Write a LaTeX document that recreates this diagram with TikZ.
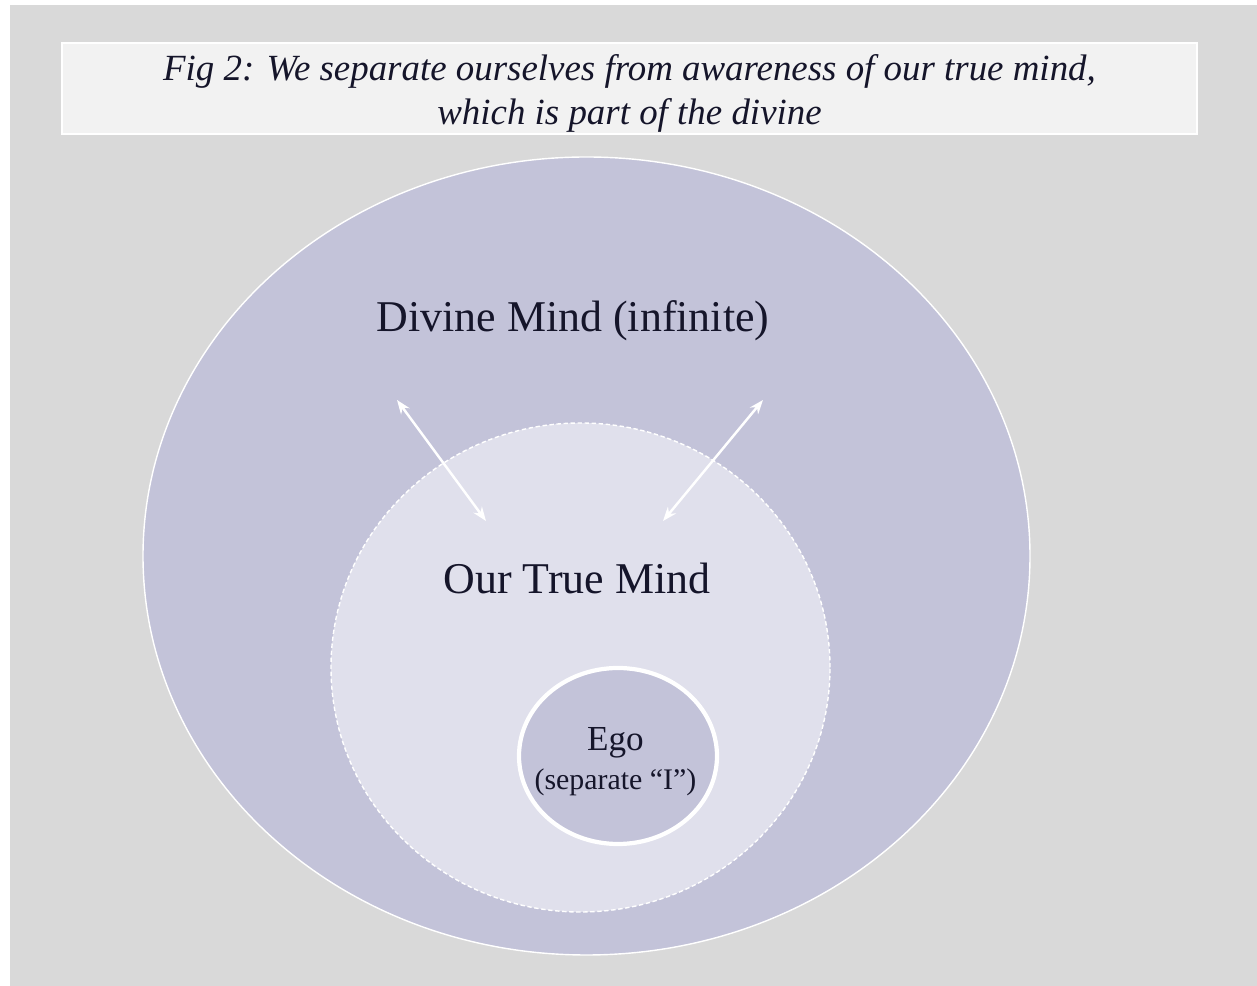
\documentclass[tikz,border=0pt]{standalone}
\usepackage{fontspec}
\setmainfont{Liberation Serif}
\usetikzlibrary{shapes.geometric,arrows.meta}

\definecolor{slidegray}{HTML}{D9D9D9}
\definecolor{titlefill}{HTML}{F2F2F2}
\definecolor{divinefill}{HTML}{C3C3D9}
\definecolor{truefill}{HTML}{E0E0EC}
\definecolor{inktext}{HTML}{15152A}

\begin{document}
\begin{tikzpicture}[
    text=inktext,
    ring/.style={ellipse, inner sep=0pt, draw=white},
    label text/.style={font=\fontsize{25}{30}\selectfont},
    flow/.style={white, line width=1.4pt, {Stealth[length=8pt,width=6pt]}-{Stealth[length=8pt,width=6pt]}}
]
    % Page frame: white strip top and left, gray slide
    \useasboundingbox (0,0) rectangle (25.14,19.72);
    \fill[white] (0,0) rectangle (25.14,19.72);
    \fill[slidegray] (0.2,0) rectangle (25.14,19.62);

    % Title box
    \node[draw=white, line width=1pt, fill=titlefill, minimum width=22.7cm, minimum height=1.82cm] (title) at (12.59,17.95) {};
    \node[align=center, font=\itshape\fontsize{21}{25}\selectfont] (titletext) at (12.59,17.86)
        {Fig 2: We separate ourselves from awareness of our true mind,\\[0pt]which is part of the divine};

    % Nested minds
    \node[ring, fill=divinefill, line width=0.8pt, minimum width=17.74cm, minimum height=15.96cm] (divine) at (11.73,8.6) {};
    \node[ring, fill=truefill, line width=0.8pt, dash pattern=on 2.5pt off 1.5pt, minimum width=9.98cm, minimum height=9.78cm] (true) at (11.61,6.37) {};
    \node[ring, fill=divinefill, line width=2.4pt, minimum width=3.96cm, minimum height=3.52cm] (ego) at (12.36,4.6) {};

    % Labels
    \node[label text] (divinelbl) at (11.46,13.3) {Divine Mind (infinite)};
    \node[label text] (truelbl) at (11.54,8.16) {Our True Mind};
    \node[align=center] (egolbl) at (12.31,4.49)
        {{\fontsize{20}{22}\selectfont Ego}\\[5pt]{\fontsize{17}{20}\selectfont (separate “I”)}};

    % Two-way arrows between true mind and divine mind
    \coordinate (ltop) at (7.94,11.72);
    \coordinate (lbot) at (9.72,9.3);
    \coordinate (rtop) at (15.26,11.72);
    \coordinate (rbot) at (13.26,9.3);
    \draw[flow] (ltop) -- (lbot);
    \draw[flow] (rtop) -- (rbot);
\end{tikzpicture}
\end{document}
